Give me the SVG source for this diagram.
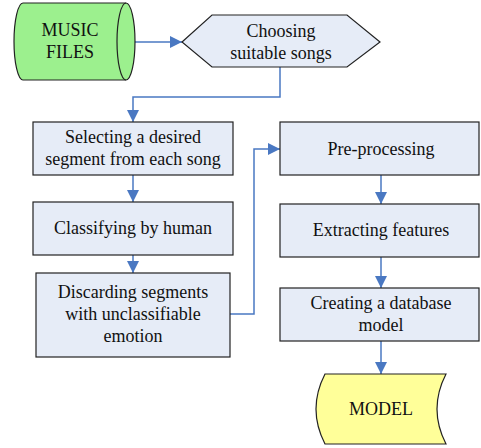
<svg xmlns="http://www.w3.org/2000/svg" width="481" height="448" viewBox="0 0 481 448">
<style>
.box{fill:#e6ecf7;stroke:#222;stroke-width:1.2}
text{font-family:'Liberation Serif','Times New Roman',serif;font-size:18px;fill:#111;text-anchor:middle}
.c{fill:none;stroke:#4a78c2;stroke-width:1.5}
</style>
<defs>
<marker id="ah" markerUnits="userSpaceOnUse" markerWidth="13" markerHeight="12" refX="12" refY="6" orient="auto" viewBox="0 0 13 12">
<path d="M0,0 L12,6 L0,12 Z" fill="#4a78c2"/>
</marker>
</defs>
<rect width="481" height="448" fill="#fff"/>
<g id="connectors">
<path class="c" d="M135,42 H182" marker-end="url(#ah)"/>
<path class="c" d="M280,67 V97 H133 V122" marker-end="url(#ah)"/>
<path class="c" d="M133,175 V202" marker-end="url(#ah)"/>
<path class="c" d="M133,255 V273" marker-end="url(#ah)"/>
<path class="c" d="M230,314 H254 V149 H280" marker-end="url(#ah)"/>
<path class="c" d="M381,175 V204" marker-end="url(#ah)"/>
<path class="c" d="M381,257 V288" marker-end="url(#ah)"/>
<path class="c" d="M381,341 V374" marker-end="url(#ah)"/>
</g>
<g id="music-files">
<path d="M23,3 L126,3 A9,38.5 0 0 1 126,80 L23,80 A9,38.5 0 0 1 23,3 Z" fill="#9cf08e" stroke="#222" stroke-width="1.2"/>
<path d="M126,3 A9,38.5 0 0 0 126,80" fill="none" stroke="#222" stroke-width="1.2"/>
<text x="70" y="36">MUSIC</text>
<text x="70" y="58">FILES</text>
</g>
<g id="choosing">
<path class="box" d="M182,42 L212,15 H347 L380,42 L347,67 H212 Z"/>
<text x="281" y="37">Choosing</text>
<text x="281" y="59">suitable songs</text>
</g>
<g id="selecting">
<rect class="box" x="33" y="122" width="200" height="53"/>
<text x="133" y="143">Selecting a desired</text>
<text x="133" y="165">segment from each song</text>
</g>
<g id="classifying">
<rect class="box" x="33" y="202" width="200" height="53"/>
<text x="133" y="234">Classifying by human</text>
</g>
<g id="discarding">
<rect class="box" x="36" y="273" width="194" height="84"/>
<text x="133" y="298">Discarding segments</text>
<text x="133" y="320">with unclassifiable</text>
<text x="133" y="342">emotion</text>
</g>
<g id="preprocessing">
<rect class="box" x="280" y="122" width="199" height="53"/>
<text x="381" y="155">Pre-processing</text>
</g>
<g id="extracting">
<rect class="box" x="280" y="204" width="199" height="53"/>
<text x="381" y="236">Extracting features</text>
</g>
<g id="creating">
<rect class="box" x="280" y="288" width="199" height="53"/>
<text x="381" y="309">Creating a database</text>
<text x="381" y="331">model</text>
</g>
<g id="model">
<path d="M325,374 H446 Q428,409 446,444 H325 Q307,409 325,374 Z" fill="#ffff99" stroke="#222" stroke-width="1.2"/>
<text x="381" y="415">MODEL</text>
</g>
</svg>
